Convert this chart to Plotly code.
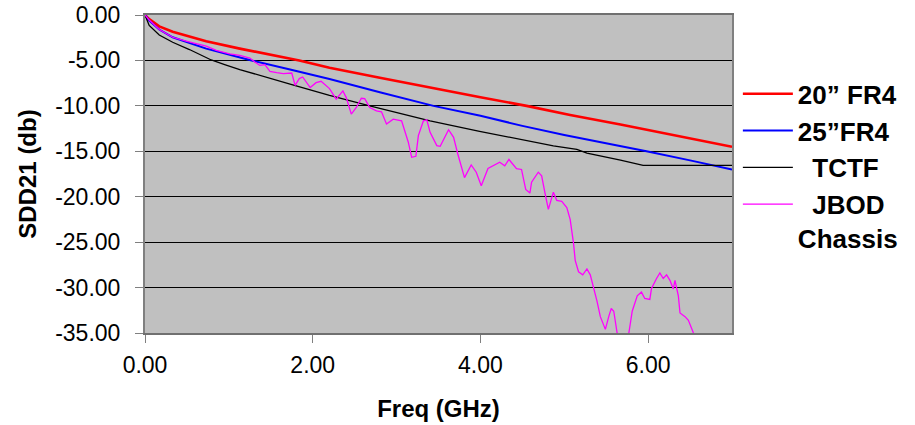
import plotly.graph_objects as go

# ---- data ----
freq_red = [0, 0.05, 0.17, 0.33, 0.73, 1.13, 1.84, 2.2, 2.8, 3.4, 4.0, 4.55, 5.07, 5.67, 6.38, 7.0]
sdd_red = [0, -0.45, -1.25, -1.85, -2.9, -3.7, -5.0, -5.8, -6.9, -8.0, -9.05, -10.0, -11.0, -12.05, -13.35, -14.5]

freq_blue = [0, 0.05, 0.17, 0.33, 0.73, 1.27, 1.73, 2.2, 2.8, 3.44, 4.0, 4.5, 5.0, 5.5, 5.98, 6.5, 7.0]
sdd_blue = [0, -0.6, -1.6, -2.45, -3.7, -5.0, -6.0, -7.05, -8.5, -10.0, -11.1, -12.2, -13.2, -14.1, -15.0, -16.0, -17.0]

freq_black = [0, 0.05, 0.17, 0.33, 0.53, 0.79, 0.95, 1.13, 1.73, 2.2, 2.68, 3.4, 3.99, 4.47, 4.87, 5.15, 5.27, 5.67, 5.94, 7.0]
sdd_black = [0, -1.15, -2.2, -3.0, -3.8, -4.95, -5.45, -6.0, -7.6, -8.85, -10.0, -11.65, -12.8, -13.66, -14.4, -14.8, -15.2, -15.97, -16.56, -16.56]

freq_jbod = [0, 0.05, 0.17, 0.33, 0.49, 0.73, 0.85, 1.01, 1.13, 1.25, 1.31, 1.37, 1.43, 1.49, 1.57, 1.65,
             1.75, 1.79, 1.84, 1.88, 1.97, 2.04, 2.10, 2.16, 2.20, 2.28, 2.36, 2.40, 2.46, 2.52, 2.58,
             2.62, 2.68, 2.76, 2.82, 2.88, 2.96, 3.06, 3.10, 3.14, 3.18, 3.23, 3.26, 3.32, 3.36, 3.40,
             3.48, 3.52, 3.62, 3.68, 3.73, 3.81, 3.89, 3.95, 4.01, 4.09, 4.23, 4.29, 4.34, 4.43, 4.49,
             4.54, 4.59, 4.61, 4.69, 4.73, 4.77, 4.81, 4.87, 4.91, 4.97, 5.03, 5.07, 5.11, 5.13, 5.17,
             5.22, 5.27, 5.31, 5.35, 5.39, 5.43, 5.49, 5.53, 5.56, 5.59, 5.63, 5.70, 5.77, 5.81, 5.87,
             5.92, 5.96, 6.02, 6.04, 6.10, 6.14, 6.18, 6.22, 6.26, 6.30, 6.32, 6.36, 6.38, 6.44, 6.48,
             6.54, 6.57]
sdd_jbod = [0, -0.55, -1.6, -2.45, -2.88, -3.43, -3.9, -4.27, -4.45, -4.74, -5.18, -5.55, -5.47, -6.2, -6.35, -6.46,
            -6.39, -7.74, -7.0, -6.82, -7.99, -7.45, -7.3, -7.81, -8.1, -9.27, -8.36, -9.09, -10.91, -10.18, -9.16,
            -9.2, -10.18, -10.55, -10.66, -12.0, -11.46, -11.64, -12.74, -14.0, -15.66, -15.55, -13.28, -11.64, -11.53, -12.92,
            -14.38, -14.45, -12.63, -13.47, -15.3, -17.9, -16.5, -17.3, -18.8, -16.9, -16.2, -16.6, -15.9, -16.9, -17.0,
            -19.2, -19.6, -18.4, -17.3, -17.7, -19.6, -21.4, -19.5, -20.4, -20.5, -21.2, -22.5, -25.1, -27.0, -28.26,
            -28.6, -27.95, -28.6, -29.96, -31.5, -33.2, -34.6, -33.2, -32.3, -32.6, -35.0, -37.0, -35.0, -32.6, -30.9,
            -30.5, -31.2, -31.3, -30.1, -29.0, -28.4, -29.0, -28.6, -29.2, -30.15, -29.2, -30.9, -32.8, -33.2, -33.6,
            -35.0, -36.0]

series_names = ["20\u201d FR4", "25\u201dFR4", "\u00a0\u00a0TCTF", "\u00a0\u00a0JBOD<br>Chassis"]

x_tick_vals = [0, 2, 4, 6]
x_tick_text = ["0.00", "2.00", "4.00", "6.00"]
y_tick_vals = [0, -5, -10, -15, -20, -25, -30, -35]
y_tick_text = ["0.00", "-5.00", "-10.00", "-15.00", "-20.00", "-25.00", "-30.00", "-35.00"]

FONT = "Liberation Sans, Arial, sans-serif"

fig = go.Figure()
fig.add_trace(go.Scatter(x=freq_red, y=sdd_red, mode="lines", name=series_names[0],
                         line=dict(color="#ff0000", width=2.6)))
fig.add_trace(go.Scatter(x=freq_blue, y=sdd_blue, mode="lines", name=series_names[1],
                         line=dict(color="#0000ff", width=2)))
fig.add_trace(go.Scatter(x=freq_black, y=sdd_black, mode="lines", name=series_names[2],
                         line=dict(color="#000000", width=1.3)))
fig.add_trace(go.Scatter(x=freq_jbod, y=sdd_jbod, mode="lines", name=series_names[3],
                         line=dict(color="#ff00ff", width=1.3)))

fig.update_layout(
    width=915, height=425,
    margin=dict(l=145, r=183, t=15, b=92),
    paper_bgcolor="white",
    plot_bgcolor="#c0c0c0",
    font=dict(family=FONT, color="black", size=23),
    showlegend=True,
    legend=dict(
        x=1.01, xanchor="left", y=0.826, yanchor="top",
        font=dict(family=FONT, size=26, color="black", weight="bold"),
        bgcolor="rgba(0,0,0,0)", valign="top", tracegroupgap=0,
        itemwidth=50,
    ),
)

fig.update_xaxes(
    range=[0, 7], tickvals=x_tick_vals, ticktext=x_tick_text,
    ticks="outside", ticklen=8, tickcolor="#808080", tickwidth=1,
    ticklabelstandoff=2, automargin=False,
    showgrid=False, zeroline=False,
    showline=True, linecolor="#707070", linewidth=2, mirror=True,
    tickfont=dict(size=23),
    title=dict(text="<b>Freq (GHz)</b>", font=dict(size=24), standoff=24),
)
fig.update_yaxes(
    range=[-35, 0], tickvals=y_tick_vals, ticktext=y_tick_text,
    ticks="outside", ticklen=8, tickcolor="#808080", tickwidth=1,
    ticklabelstandoff=10, automargin=False,
    showgrid=True, gridcolor="#000000", gridwidth=1, zeroline=False,
    showline=True, linecolor="#808080", linewidth=2, mirror=True,
    tickfont=dict(size=23),
    title=dict(text="<b>SDD21 (db)</b>", font=dict(size=24), standoff=12),
)

fig.write_html("out.html")
